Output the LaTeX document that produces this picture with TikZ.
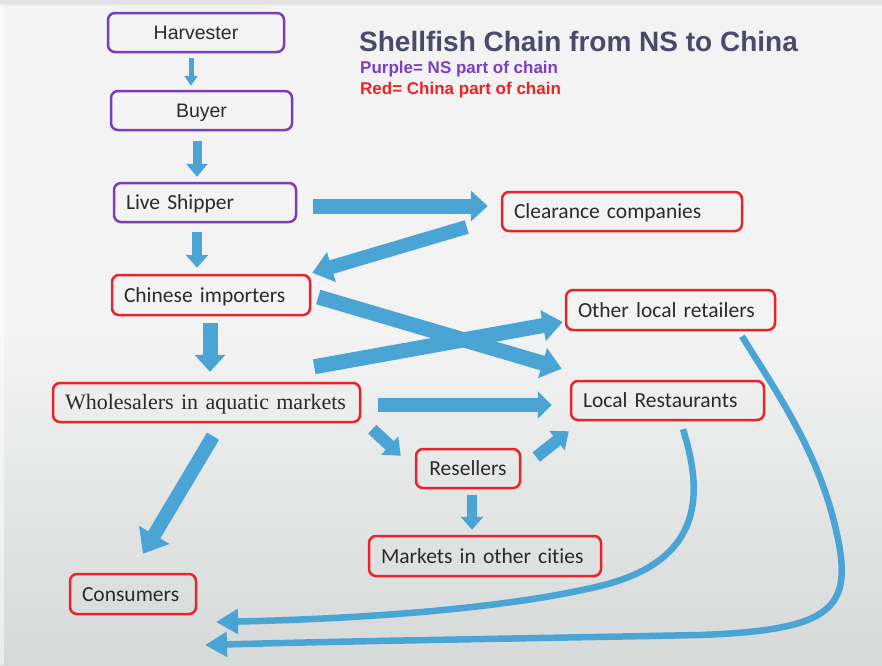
\documentclass[tikz,border=0pt]{standalone}
\usepackage{fontspec}
\setmainfont{Liberation Sans}
\newfontfamily\carlito[Ligatures={NoCommon}]{Carlito}
\newfontfamily\timesfam{Liberation Serif}
\newfontfamily\arialfam{Liberation Sans}
\usetikzlibrary{arrows.meta,calc}

\definecolor{bgtop}{HTML}{F3F3F3}
\definecolor{bgbot}{HTML}{D5D9D8}
\definecolor{strip}{HTML}{E3E3E3}
\definecolor{nsline}{HTML}{7A3DB8}
\definecolor{cnline}{HTML}{E8242A}
\definecolor{flow}{HTML}{4AA4D4}
\definecolor{txt}{HTML}{2A2A2A}
\definecolor{titlecol}{HTML}{4B4A6A}
\definecolor{purplekey}{HTML}{7D3FBF}
\definecolor{redkey}{HTML}{EE2222}

\tikzset{
  box/.style={draw, rounded corners=7pt, line width=2.5pt, minimum height=39pt,
    inner xsep=12pt, inner ysep=0pt, text height=14pt, text depth=0pt,
    align=left, text=txt, font=\carlito\fontsize{21.5}{24}\selectfont},
  nsbox/.style={box, draw=nsline},
  cnbox/.style={box, draw=cnline},
  blk/.style n args={3}{draw=flow, line width=#1,
    -{Triangle[width=#2, length=#3]}},
  loop/.style={draw=flow, line width=6.5pt,
    -{Triangle[width=24pt, length=22pt]}},
}

\begin{document}
\begin{tikzpicture}[x=1pt, y=-1pt]
  % backdrop
  \useasboundingbox (0,0) rectangle (882,665);
  \fill[bgtop] (0,0) rectangle (882,665);
  \shade[top color=bgtop, bottom color=bgbot] (0,330) rectangle (882,665);
  \fill[strip] (0,0) rectangle (882,5);
  \fill[white, opacity=0.5] (0,5) rectangle (4,665);

  % title and key
  \node[anchor=base west, inner sep=0pt, text=titlecol,
        font=\arialfam\bfseries\fontsize{28}{30}\selectfont]
        (title) at (359,51) {Shellfish Chain from NS to China};
  \node[anchor=base west, inner sep=0pt, text=purplekey,
        font=\arialfam\bfseries\fontsize{17}{19}\selectfont]
        (keyns) at (360,73) {Purple= NS part of chain};
  \node[anchor=base west, inner sep=0pt, text=redkey,
        font=\arialfam\bfseries\fontsize{17}{19}\selectfont]
        (keycn) at (360,94) {Red= China part of chain};

  % chain members
  \node[nsbox, text width=152pt, align=center,
        font=\arialfam\fontsize{19.5}{22}\selectfont] (harv) at (196,32.5) {Harvester};
  \node[nsbox, text width=157pt, align=center,
        font=\arialfam\fontsize{19.5}{22}\selectfont] (buyer) at (201.5,110.5) {Buyer};
  \node[nsbox, text width=158pt] (ship) at (205,202.5) {Live Shipper};
  \node[cnbox, text width=216pt] (clear) at (622,211.5) {Clearance companies};
  \node[cnbox, text width=174pt, minimum height=40pt] (imp) at (211,295) {Chinese importers};
  \node[cnbox, text width=185pt, minimum height=40pt] (other) at (670.5,310) {Other local retailers};
  \node[cnbox, text width=283pt,
        font=\timesfam\fontsize{22}{24}\selectfont] (whole) at (206.5,402.5) {Wholesalers in aquatic markets};
  \node[cnbox, text width=169pt] (rest) at (667.5,400.5) {Local Restaurants};
  \node[cnbox, text width=80pt, align=center] (resel) at (468,468.5) {Resellers};
  \node[cnbox, text width=208pt, minimum height=40pt] (markets) at (485,556) {Markets in other cities};
  \node[cnbox, text width=102pt, minimum height=40pt] (cons) at (133,594) {Consumers};

  % end points of the two long return flows
  \coordinate (sinkA) at (216,622);
  \coordinate (sinkB) at (205,645);

  % block arrows
  \draw[blk={5pt}{13pt}{10pt}] ($(harv.south)+(-5,5)$) -- ($(buyer.north)+(-10.5,-4)$);
  \draw[blk={9pt}{21pt}{13pt}] ($(buyer.south)+(-4.5,10)$) -- ($(ship.north)+(-8,-5)$);
  \draw[blk={15pt}{30pt}{17pt}] ($(ship.east)+(16,3.5)$) -- ($(clear.west)+(-13,-5.5)$);
  \draw[blk={14pt}{30pt}{20pt}] ($(clear.west)+(-34,15.5)$) -- ($(imp.north east)+(1,-1)$);
  \draw[blk={10pt}{22pt}{13pt}] ($(ship.south)+(-8,9)$) -- ($(imp.north)+(-14,-6)$);
  \draw[blk={15pt}{30pt}{20pt}] ($(imp.east)+(7,2)$) -- ($(rest.north west)+(-8,-11)$);
  \draw[blk={15pt}{30pt}{20pt}] ($(whole.north east)+(-47,-15)$) -- ($(other.west)+(-2,12)$);
  \draw[blk={15pt}{30pt}{17pt}] ($(imp.south)+(-1,7)$) -- ($(whole.north)+(3.5,-10)$);
  \draw[blk={14pt}{27pt}{14pt}] ($(whole.east)+(17,2.5)$) -- ($(rest.west)+(-18,4.5)$);
  \draw[blk={12pt}{24pt}{15pt}] ($(whole.south east)+(11,6)$) -- ($(resel.north west)+(-14,8)$);
  \draw[blk={12pt}{24pt}{15pt}] ($(resel.east)+(15,-11.5)$) -- ($(rest.south west)+(-1,10)$);
  \draw[blk={10pt}{22pt}{13pt}] ($(resel.south)+(4,6)$) -- ($(markets.north)+(-13,-5)$);
  \draw[blk={14pt}{34pt}{22pt}] ($(whole.south)+(6.5,13)$) -- ($(cons.north)+(10,-19)$);

  % long curved flows back towards the consumers
  \draw[loop] ($(rest.south)+(15.5,8)$)
      .. controls (702,490) and (707,560) .. (600,586)
      .. controls (500,610) and (350,619) .. (sinkA);
  \draw[loop] ($(other.south)+(71.5,5)$)
      .. controls (775,390) and (818,450) .. (836,530)
      .. controls (854,608) and (835,630) .. (700,635)
      .. controls (550,638) and (350,641) .. (sinkB);
\end{tikzpicture}
\end{document}
